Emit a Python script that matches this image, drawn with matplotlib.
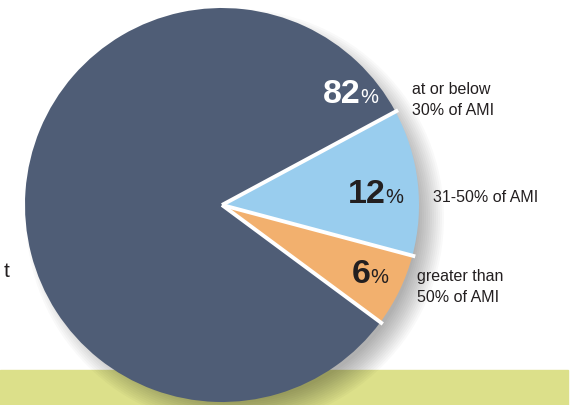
import numpy as np
import matplotlib
matplotlib.use("Agg")
import matplotlib.pyplot as plt
from matplotlib.patches import Rectangle, Circle

# shares of households by income group
groups = ["greater than\n50% of AMI", "31-50% of AMI", "at or below\n30% of AMI"]
shares = [6, 12, 82]
colors = ["#f2b06e", "#99cdee", "#4f5d76"]
num_colors = ["#231f20", "#231f20", "white"]

plt.rcParams['font.family'] = ['Liberation Sans', 'DejaVu Sans']

W, H = 581, 405
fig = plt.figure(figsize=(W / 100, H / 100), dpi=100)
ax = fig.add_axes([0, 0, 1, 1])

cx, cy, r = 222, H - 205, 197

# green band at the bottom
ax.add_patch(Rectangle((0, 0), 568, 35, color="#dce08a", zorder=0))

# soft drop shadow to the lower right of the pie (stacked faint circles)
for k in range(14):
    ax.add_patch(Circle((cx + 13, cy - 13), r + 12 - 2 * k, facecolor="black",
                        edgecolor="none", alpha=0.022, zorder=1))

wedges, _ = ax.pie(shares, colors=colors, startangle=-36.5, counterclock=True,
                   center=(cx, cy), radius=r, frame=True,
                   wedgeprops=dict(linewidth=0))
for w in wedges:
    w.set_zorder(2)

# white gaps between the slices
for w in wedges:
    a = np.deg2rad(w.theta1)
    ax.plot([cx, cx + (r + 3) * np.cos(a)], [cy, cy + (r + 3) * np.sin(a)],
            color="white", lw=2.8, solid_capstyle="butt", zorder=3)

# percentage labels inside the slices (number bold, % smaller)
num_pos = [(371, H - 283), (386, H - 203), (361, H - 103)]
for val, (x, y), c in zip(shares, num_pos, num_colors):
    ax.text(x, y, str(val), ha="right", va="baseline", fontsize=24.5, fontweight="bold",
            color=c, zorder=4)
    ax.text(x - 1, y, "%", ha="left", va="baseline", fontsize=14.5, color=c, zorder=4)

# group labels outside the pie
lab_pos = [(417, H - 287), (433, H - 197), (412, H - 100)]
for g, (x, y) in zip(groups, lab_pos):
    ax.text(x, y, g, ha="left", va="center", fontsize=11.5, color="#231f20",
            linespacing=1.45, zorder=4)

ax.text(9, H - 277, "t", ha="right", va="baseline", fontsize=15, color="#231f20")

ax.set_xlim(0, W)
ax.set_ylim(0, H)
ax.set_aspect("auto")
ax.axis("off")

fig.savefig("out.png", dpi=100)
